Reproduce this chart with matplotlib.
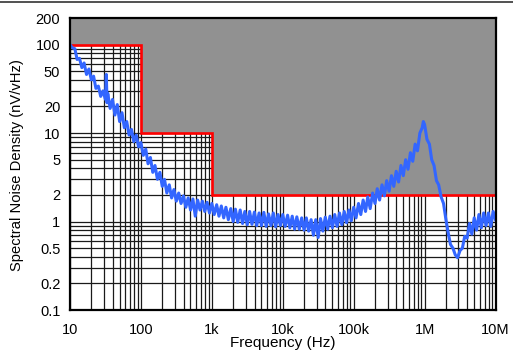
import matplotlib
matplotlib.use("Agg")
import matplotlib.pyplot as plt
from matplotlib.lines import Line2D
from matplotlib.ticker import FixedLocator, FixedFormatter, LogLocator, NullFormatter

plt.rcParams['font.family'] = ['Liberation Sans', 'DejaVu Sans']

# Measured noise curve (frequency in Hz, noise in nV/rtHz)
freq = [
    10, 10.8, 11.7, 12.6, 13.6, 14.7, 15.8, 17.1, 18.5, 20, 21.5, 23.2, 25.1, 27.1, 29.2, 31.6, 32.5, 33.3,
    34.1, 36.8, 39.8, 43, 46.4, 50.1, 54.1, 58.4, 63.1, 68.1, 73.6, 79.4, 85.8, 92.6,
    100, 108, 117, 126, 136, 147, 158, 171, 185, 200, 215, 232, 251, 271, 292, 316, 341, 368,
    398, 430, 464, 501, 541, 584, 631, 681, 736, 794, 858, 926,
    1000, 1080, 1170, 1260, 1360, 1470, 1580, 1710, 1850, 2000, 2150, 2320, 2510, 2710, 2920, 3160,
    3410, 3680, 3980, 4300, 4640, 5010, 5410, 5840, 6310, 6810, 7360, 7940, 8580, 9260,
    10000, 10800, 11700, 12600, 13600, 14700, 15800, 17100, 18500, 20000, 21500, 23200, 25100, 27100,
    29200, 31600, 34100, 36800, 39800, 43000, 46400, 50100, 54100, 58400, 63100, 68100, 73600, 79400,
    85800, 92600,
    100000, 108000, 117000, 126000, 136000, 147000, 158000, 171000, 185000, 200000, 215000, 232000,
    251000, 271000, 292000, 316000, 341000, 368000, 398000, 430000, 464000, 501000, 541000, 584000,
    631000, 681000, 736000, 794000, 858000, 926000, 960000,
    1000000, 1080000, 1170000, 1260000, 1360000, 1470000, 1580000, 1710000, 1850000, 2000000, 2150000,
    2320000, 2510000, 2710000, 2920000, 3160000, 3410000, 3680000, 3980000, 4300000, 4640000, 5010000,
    5410000, 5840000, 6310000, 6810000, 7360000, 7940000, 8580000, 9260000, 10000000,
]
noise = [
    100, 92, 90, 68, 70, 55, 62, 46, 53, 40, 44, 32, 34, 26, 30, 24, 46, 22,
    28, 19, 24, 16, 21, 13.5, 17, 11.5, 13.5, 9.5, 11, 8, 9.5, 7,
    7.8, 5.6, 6.6, 4.5, 5.3, 3.6, 4.3, 3.0, 3.6, 2.5, 3.0, 2.1, 2.6, 1.85, 2.3, 1.7, 2.1, 1.6,
    1.95, 1.45, 1.85, 1.35, 1.8, 1.15, 1.75, 1.35, 1.7, 1.3, 1.65, 1.25,
    1.6, 1.2, 1.55, 1.15, 1.5, 1.1, 1.45, 1.05, 1.4, 1.0, 1.38, 0.98, 1.35, 0.95, 1.3, 0.92,
    1.3, 0.93, 1.28, 0.9, 1.25, 0.9, 1.27, 0.88, 1.22, 0.9, 1.25, 0.87, 1.2, 0.9,
    1.2, 0.88, 1.18, 0.85, 1.15, 0.82, 1.13, 0.82, 1.1, 0.8, 1.1, 0.78, 1.05, 0.7,
    1.05, 0.66, 1.08, 0.78, 1.12, 0.82, 1.15, 0.85, 1.2, 0.88, 1.25, 0.92, 1.3, 0.97,
    1.35, 1.02,
    1.45, 1.1, 1.6, 1.2, 1.75, 1.3, 1.9, 1.4, 2.1, 1.6, 2.35, 1.75,
    2.6, 1.95, 2.9, 2.2, 3.3, 2.5, 3.7, 2.8, 4.3, 3.3, 5.0, 3.9,
    6.0, 4.8, 7.5, 6.3, 10, 11.5, 13.5,
    12.5, 8.5, 7.5, 5.0, 4.3, 2.9, 2.6, 1.9, 1.6, 1.05, 0.75,
    0.55, 0.5, 0.42, 0.39, 0.47, 0.5, 0.68, 0.65, 0.95, 0.72, 1.1,
    0.8, 1.2, 0.85, 1.25, 0.9, 1.25, 0.88, 1.3, 1.05,
]

# Specification limit (upper bound) steps
limit_freq = [10, 100, 100, 1000, 1000, 10000000]
limit_val = [100, 100, 10, 10, 2, 2]

x_ticks = [10, 100, 1000, 10000, 100000, 1000000, 10000000]
x_labels = ["10", "100", "1k", "10k", "100k", "1M", "10M"]
y_ticks = [0.1, 0.2, 0.5, 1, 2, 5, 10, 20, 50, 100, 200]
y_labels = ["0.1", "0.2", "0.5", "1", "2", "5", "10", "20", "50", "100", "200"]

W, H = 513, 351
fig = plt.figure(figsize=(W / 100, H / 100), dpi=100)
ax = fig.add_axes([70 / W, 1 - 310 / H, (495.5 - 70) / W, (310 - 18) / H])
ax.set_xscale('log')
ax.set_yscale('log')
ax.set_xlim(10, 1e7)
ax.set_ylim(0.1, 200)

# grid
ax.xaxis.set_minor_locator(LogLocator(base=10, subs=range(2, 10), numticks=20))
ax.yaxis.set_minor_locator(LogLocator(base=10, subs=range(2, 10), numticks=20))
ax.xaxis.set_minor_formatter(NullFormatter())
ax.yaxis.set_minor_formatter(NullFormatter())
ax.grid(True, which='both', color='#1a1a1a', lw=0.9)
ax.set_axisbelow(True)

# gray forbidden region above limit
ax.fill_between(limit_freq, limit_val, [200] * len(limit_val), color='#919191', lw=0, zorder=1)
ax.plot(limit_freq, limit_val, color='#ff0000', lw=1.9, zorder=3, solid_joinstyle='miter')
ax.plot(freq, noise, color='#3366ff', lw=2.2, zorder=4)

ax.xaxis.set_major_locator(FixedLocator(x_ticks))
ax.xaxis.set_major_formatter(FixedFormatter(x_labels))
ax.yaxis.set_major_locator(FixedLocator(y_ticks))
ax.yaxis.set_major_formatter(FixedFormatter(y_labels))
ax.tick_params(which='both', length=0)
ax.tick_params(axis='x', pad=9, labelsize=10.5)
ax.tick_params(axis='y', pad=7, labelsize=10.5)
for s in ax.spines.values():
    s.set_linewidth(1.6)
    s.set_color('black')
    s.set_zorder(5)

fig.text(283 / W, 1 - 347 / H, "Frequency (Hz)", ha='center', va='baseline', fontsize=11)
fig.text(17.5 / W, 1 - 165 / H, "Spectral Noise Density (nV/vHz)", ha='center', va='center',
         rotation=90, fontsize=10.6)
fig.add_artist(Line2D([0, 1], [1 - 2 / H, 1 - 2 / H], transform=fig.transFigure,
                      color='#333333', lw=1.2))

fig.savefig("out.png", dpi=100)
